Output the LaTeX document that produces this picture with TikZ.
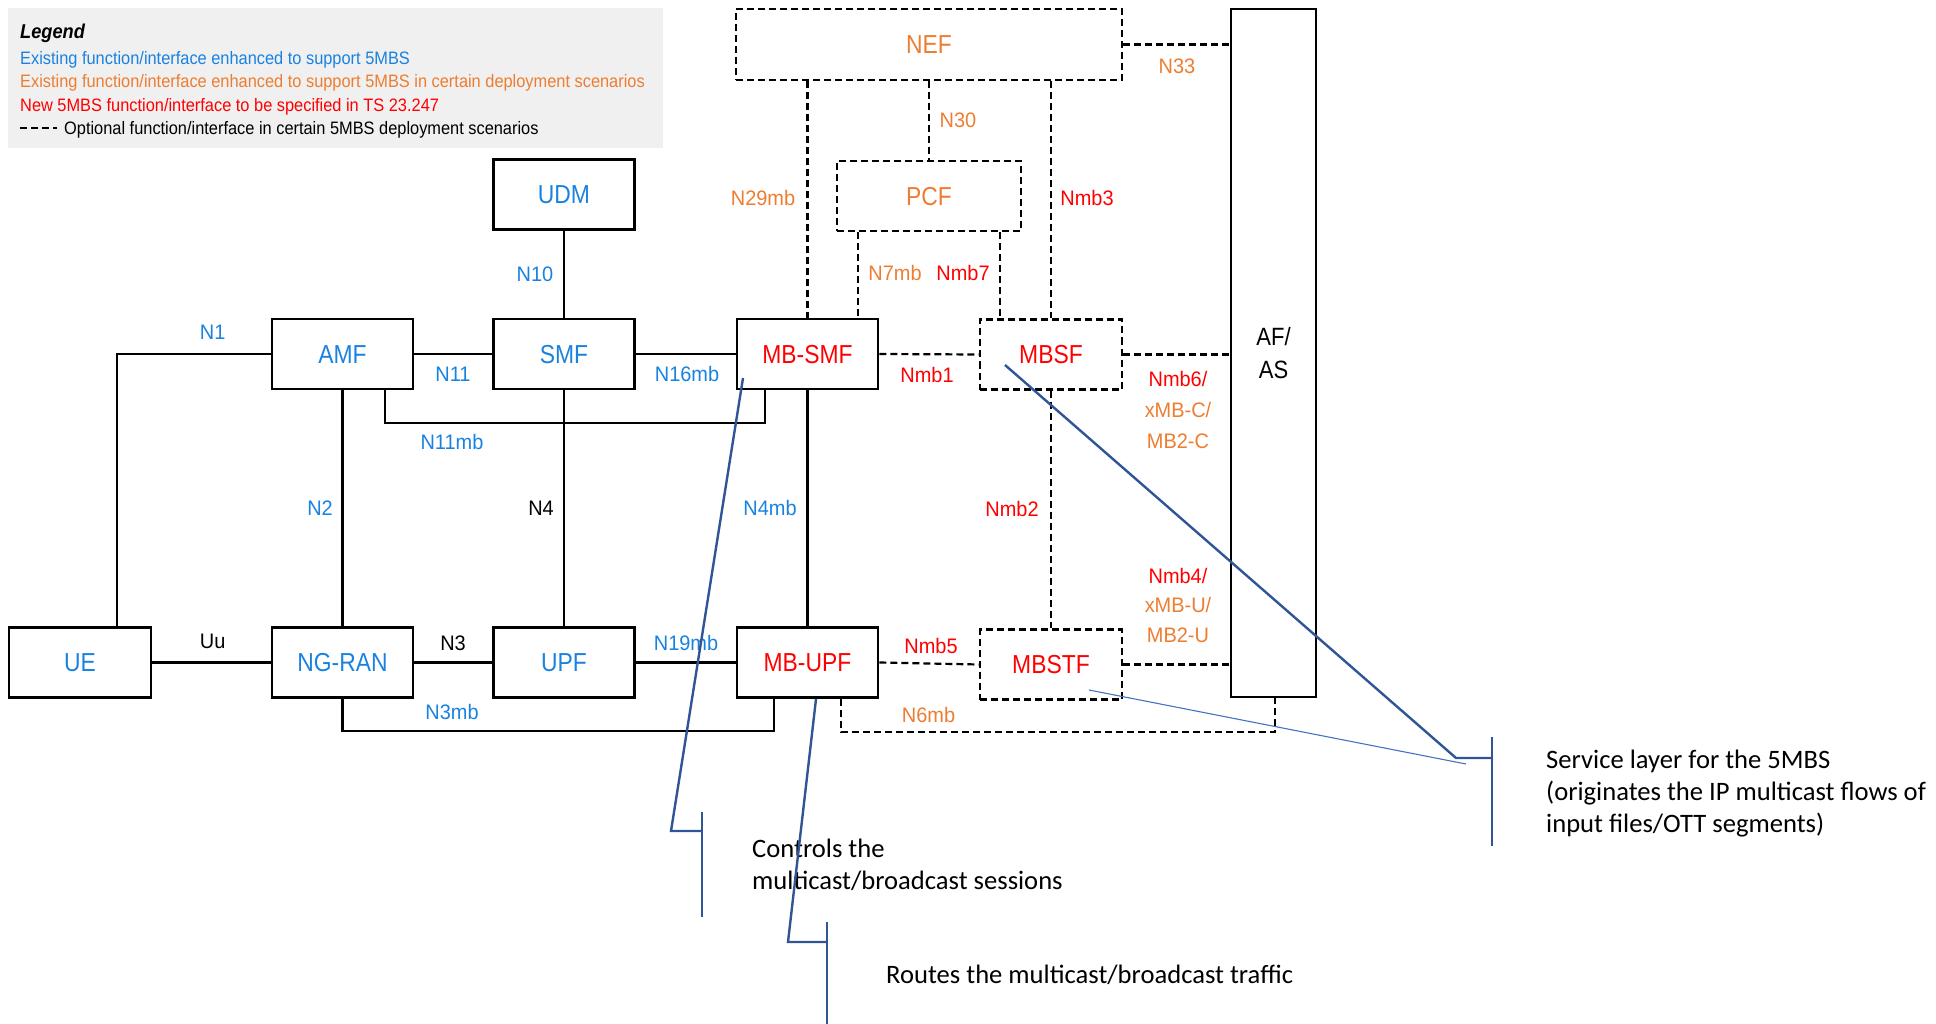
\documentclass[tikz,border=0pt]{standalone}
\usepackage{fontspec}
\setmainfont{Liberation Sans}
\newfontfamily\boxfont[FakeStretch=0.88]{Liberation Sans}
\newfontfamily\lblfont[FakeStretch=0.95]{Liberation Sans}
\newfontfamily\legfont[FakeStretch=0.91]{Liberation Sans}
\newfontfamily\notefont{Carlito}
\definecolor{nblue}{RGB}{25,130,225}
\definecolor{norange}{RGB}{237,125,49}
\definecolor{nred}{RGB}{255,0,0}
\definecolor{calloutblue}{RGB}{47,85,151}
\definecolor{thinblue}{RGB}{68,114,196}
\definecolor{leggray}{RGB}{240,240,240}
\begin{document}
\begin{tikzpicture}[x=1pt,y=-1pt,
  nf/.style={draw=black, line width=2.6pt, minimum width=141pt, minimum height=70pt,
    inner sep=0pt, font=\boxfont\fontsize{26}{30}\selectfont, text height=18.6pt, text depth=0pt},
  optnf/.style={nf, dash pattern=on 7pt off 4pt},
  link/.style={line width=2.2pt, line cap=butt},
  optlink/.style={link, dash pattern=on 7pt off 4pt},
  lbl/.style={inner sep=0pt, font=\lblfont\fontsize{21}{24}\selectfont, text height=15pt, text depth=0pt},
  legtext/.style={inner sep=0pt, anchor=west, font=\legfont\fontsize{18}{20}\selectfont, text height=12.9pt, text depth=0pt},
  note/.style={inner sep=0pt, anchor=west, align=left, font=\notefont\fontsize{26.6}{32}\selectfont},
  callout/.style={draw=calloutblue, line width=2.4pt},
  thincallout/.style={draw=thinblue, line width=1.1pt}
]
\useasboundingbox (0,0) rectangle (1936,1024);

% legend
\node[fill=leggray, minimum width=655pt, minimum height=140pt, anchor=north west, inner sep=0pt] (legend) at (8,8) {};
\node[legtext, font=\legfont\fontsize{20}{22}\selectfont] (leg0) at (20,32) {\bfseries\itshape Legend};
\node[legtext, text=nblue] (leg1) at (20,58) {Existing function/interface enhanced to support 5MBS};
\node[legtext, text=norange] (leg2) at (20,81.5) {Existing function/interface enhanced to support 5MBS in certain deployment scenarios};
\node[legtext, text=nred] (leg3) at (20,105) {New 5MBS function/interface to be specified in TS 23.247};
\coordinate (legdashA) at (20,128);
\coordinate (legdashB) at (57,128);
\draw[line width=2.2pt, dash pattern=on 7pt off 4pt] (legdashA) -- (legdashB);
\node[legtext] (leg4) at (64,128) {Optional function/interface in certain 5MBS deployment scenarios};

% network functions
\node[nf, minimum width=142pt, text=nblue] (ue) at (80,662.5) {UE};
\node[nf, text=nblue] (ngran) at (342.5,662.5) {NG-RAN};
\node[nf, text=nblue] (upf) at (564,662.5) {UPF};
\node[nf, text=nred] (mbupf) at (807.5,662.5) {MB-UPF};
\node[nf, text=nblue] (amf) at (342.5,354) {AMF};
\node[nf, text=nblue] (smf) at (564,354) {SMF};
\node[nf, text=nred] (mbsmf) at (807.5,354) {MB-SMF};
\node[nf, text=nblue] (udm) at (564,194.5) {UDM};
\node[optnf, minimum width=386pt, minimum height=71pt, text=norange] (nef) at (929,44.5) {NEF};
\node[optnf, minimum width=184pt, text=norange] (pcf) at (929,196) {PCF};
\node[optnf, minimum width=142pt, text=nred] (mbsf) at (1051,354.5) {MBSF};
\node[optnf, minimum width=142pt, text=nred] (mbstf) at (1051,664.5) {MBSTF};
\node[draw=black, line width=2.6pt, minimum width=85pt, minimum height=688pt, inner sep=0pt,
  align=center, font=\boxfont\fontsize{25}{33}\selectfont] (af) at (1273.5,353) {AF/\\AS};

% bend and drop points of links
\coordinate (n1c) at (117,354);
\coordinate (n7c) at (858,0);
\coordinate (nmb7c) at (1000,0);

% control plane links
\draw[link] (amf.west) -- (n1c) -- (n1c |- ue.north);
\draw[link] (amf.east) -- (smf.west);
\draw[link] (smf.east) -- (mbsmf.west);
\draw[link] (udm.south) -- (smf.north);
\draw[link] ([xshift=42.5pt]amf.south) -- ++(0,33) -| ([xshift=-42.5pt]mbsmf.south);
\draw[link] (amf.south) -- (ngran.north);
\draw[link] (smf.south) -- (upf.north);
\draw[link] (mbsmf.south) -- (mbupf.north);

% user plane links
\draw[link] (ue.east) -- (ngran.west);
\draw[link] (ngran.east) -- (upf.west);
\draw[link] (upf.east) -- (mbupf.west);
\draw[link] (ngran.south) -- ++(0,32) -| ([xshift=-33.5pt]mbupf.south);

% optional links
\draw[optlink] ([xshift=33.5pt]mbupf.south) -- ++(0,33) -| ([xshift=1.5pt]af.south);
\draw[optlink] (mbupf.east) -- (mbstf.west);
\draw[optlink] (mbstf.east) -- (af.west |- mbstf.east);
\draw[optlink] (mbsmf.east) -- (mbsf.west);
\draw[optlink] (mbsf.east) -- (af.west |- mbsf.east);
\draw[optlink] (mbsf.south) -- (mbstf.north);
\draw[optlink] (nef.south -| mbsf.north) -- (mbsf.north);
\draw[optlink] (nef.south -| mbsmf.north) -- (mbsmf.north);
\draw[optlink] (nef.south) -- (pcf.north);
\draw[optlink] (pcf.south -| n7c) -- (mbsmf.north -| n7c);
\draw[optlink] (pcf.south -| nmb7c) -- (mbsf.north -| nmb7c);
\draw[optlink] (nef.east) -- (af.west |- nef.east);

% interface labels
\node[lbl, text=nblue] (lN1) at (212.6,332) {N1};
\node[lbl, text=nblue] (lN11) at (453,374) {N11};
\node[lbl, text=nblue] (lN16mb) at (687,374) {N16mb};
\node[lbl, text=nblue] (lN10) at (535,274) {N10};
\node[lbl, text=nblue] (lN11mb) at (452,442) {N11mb};
\node[lbl, text=nblue] (lN2) at (320,508) {N2};
\node[lbl] (lN4) at (541,508) {N4};
\node[lbl, text=nblue] (lN4mb) at (770,508) {N4mb};
\node[lbl] (lUu) at (212.6,641) {Uu};
\node[lbl] (lN3) at (453,643) {N3};
\node[lbl, text=nblue] (lN19mb) at (686,643) {N19mb};
\node[lbl, text=nblue] (lN3mb) at (452,712) {N3mb};
\node[lbl, text=norange] (lN6mb) at (928.5,715) {N6mb};
\node[lbl, text=nred] (lNmb5) at (931,646) {Nmb5};
\node[lbl, text=nred] (lNmb1) at (927,375) {Nmb1};
\node[lbl, text=nred] (lNmb2) at (1012,509) {Nmb2};
\node[lbl, text=nred] (lNmb3) at (1087,198) {Nmb3};
\node[lbl, text=norange] (lN7mb) at (895,273) {N7mb};
\node[lbl, text=nred] (lNmb7) at (963,273) {Nmb7};
\node[lbl, text=norange] (lN29mb) at (763,198) {N29mb};
\node[lbl, text=norange] (lN30) at (958,120) {N30};
\node[lbl, text=norange] (lN33) at (1177,66) {N33};
\node[lbl, text=nred] (lNmb6) at (1178,379) {Nmb6/};
\node[lbl, text=norange] (lxMBC) at (1178,410) {xMB-C/};
\node[lbl, text=norange] (lMBC) at (1178,441) {MB2-C};
\node[lbl, text=nred] (lNmb4) at (1178,576) {Nmb4/};
\node[lbl, text=norange] (lxMBU) at (1178,605) {xMB-U/};
\node[lbl, text=norange] (lMBU) at (1178,635) {MB2-U};

% annotations
\node[note] (noteSMF) at (752,865) {Controls the\\multicast/broadcast sessions};
\node[note] (noteUPF) at (886,975) {Routes the multicast/broadcast traffic};
\node[note] (noteSL) at (1546,794) {Service layer for the 5MBS\\(originates the IP multicast flows of\\input files/OTT segments)};

\coordinate (cSMFa) at (743,378);
\coordinate (cSMFb) at (671,831);
\coordinate (cSMFc) at (702,831);
\coordinate (bSMFt) at (702,812);
\coordinate (bSMFb) at (702,917);
\draw[callout] (cSMFa) -- (cSMFb) -- (cSMFc);
\draw[callout] (bSMFt) -- (bSMFb);

\coordinate (cUPFa) at (816,699);
\coordinate (cUPFb) at (788,942);
\coordinate (cUPFc) at (827,942);
\coordinate (bUPFt) at (827,922);
\coordinate (bUPFb) at (827,1024);
\draw[callout] (cUPFa) -- (cUPFb) -- (cUPFc);
\draw[callout] (bUPFt) -- (bUPFb);

\coordinate (cSLa) at (1005,365);
\coordinate (cSLb) at (1456,758);
\coordinate (cSLc) at (1492,758);
\coordinate (bSLt) at (1492,737);
\coordinate (bSLb) at (1492,846);
\draw[callout] (cSLa) -- (cSLb) -- (cSLc);
\draw[callout] (bSLt) -- (bSLb);

\coordinate (cSTFa) at (1089,690);
\coordinate (cSTFb) at (1466,764);
\draw[thincallout] (cSTFa) -- (cSTFb);
\end{tikzpicture}
\end{document}
